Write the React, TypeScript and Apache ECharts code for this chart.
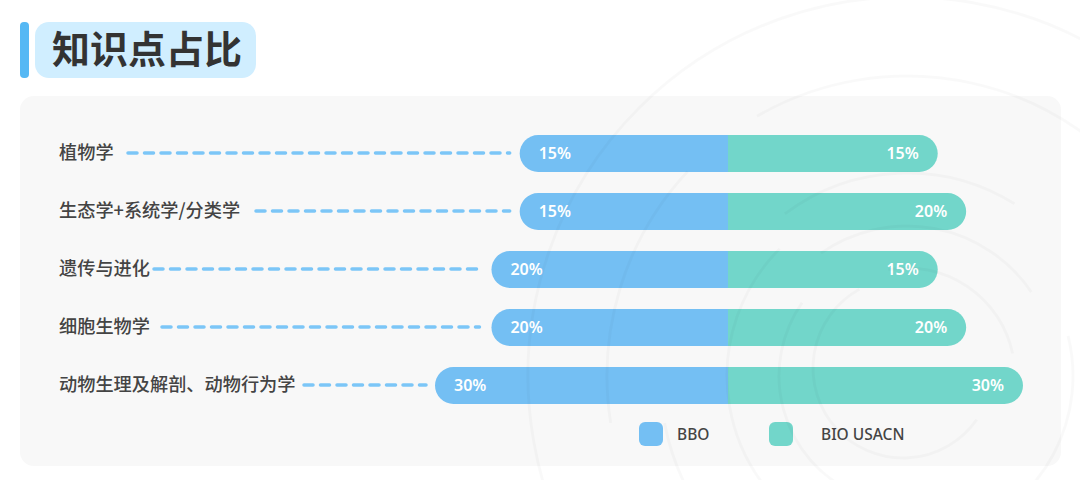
import { useEffect, useRef } from "react";
import * as echarts from "echarts";

const categories = ["植物学", "生态学+系统学/分类学", "遗传与进化", "细胞生物学", "动物生理及解剖、动物行为学"];
const bbo = [15, 15, 20, 20, 30];
const usacn = [15, 20, 15, 20, 30];
// where each dashed leader starts (just past the end of its label)
const leaderStart = [128, 256, 154, 162, 304];
const leaderGap = [10, 10, 12, 12, 9];

const BLUE = "#74bff3";
const GREEN = "#72d6ca";
const FONT = "'Noto Sans CJK SC', 'Noto Sans', sans-serif";
const LATIN = "'Noto Sans', sans-serif";

// the bars are not zero based in the picture: 0% still has some length
const AXIS_MIN = -21.9;
const AXIS_MAX = 30;

// faint concentric watermark behind the chart
const ringColor = "rgba(0,0,0,0.022)";
const d2r = Math.PI / 180;
const rings = [
  { cx: 907, cy: 376, r: 379, from: 115, to: 335 },
  { cx: 907, cy: 376, r: 300, from: 171, to: 223 },
  { cx: 907, cy: 376, r: 300, from: 240, to: 325 },
  { cx: 907, cy: 376, r: 247, from: 115, to: 169 },
  { cx: 907, cy: 376, r: 203, from: 233, to: 302 },
  { cx: 907, cy: 376, r: 180, from: 115, to: 225 },
  { cx: 907, cy: 376, r: 166, from: 346, to: 430 },
  { cx: 907, cy: 376, r: 150, from: 235, to: 326 },
  { cx: 907, cy: 376, r: 128, from: 115, to: 215 },
  { cx: 907, cy: 376, r: 108, from: 260, to: 348 },
  { cx: 903, cy: 368, r: 90, from: 35, to: 241 },
];

function makeOption() {
  return {
    animation: false,
    backgroundColor: "#ffffff",
    textStyle: { fontFamily: FONT },
    title: {
      text: "知识点占比",
      left: 47,
      top: 17,
      textStyle: { fontFamily: FONT, fontSize: 38, fontWeight: 700, color: "#333333", lineHeight: 48 },
    },
    graphic: [
      { type: "rect", z: -10, shape: { x: 20, y: 96, width: 1041, height: 370, r: 14 }, style: { fill: "#f8f8f8" } },
      { type: "rect", z: -10, shape: { x: 20, y: 22, width: 9, height: 56, r: 4 }, style: { fill: "#55b8f4" } },
      { type: "rect", z: -10, shape: { x: 35, y: 22, width: 221, height: 56, r: 14 }, style: { fill: "#d0eeff" } },
      ...rings.map((a) => ({
        type: "arc",
        z: 100,
        silent: true,
        shape: { cx: a.cx, cy: a.cy, r: a.r, startAngle: a.from * d2r, endAngle: a.to * d2r, clockwise: true },
        style: { stroke: ringColor, lineWidth: 3, fill: "none" },
      })),
    ],
    legend: [
      {
        data: ["BBO"],
        left: 639,
        top: 422,
        padding: 0,
        itemWidth: 24,
        itemHeight: 24,
        itemGap: 0,
        icon: "roundRect",
        textStyle: { fontFamily: LATIN, fontSize: 15.5, fontWeight: 500, color: "#444444", padding: [0, 0, 0, 9] },
      },
      {
        data: ["BIO USACN"],
        left: 769,
        top: 422,
        padding: 0,
        itemWidth: 24,
        itemHeight: 24,
        itemGap: 0,
        icon: "roundRect",
        textStyle: { fontFamily: LATIN, fontSize: 15.5, fontWeight: 500, color: "#444444", padding: [0, 0, 0, 23] },
      },
    ],
    grid: [
      { left: 435, width: 293, top: 124.5, height: 290 },
      { left: 728, width: 295, top: 124.5, height: 290 },
    ],
    xAxis: [
      { gridIndex: 0, type: "value", inverse: true, min: AXIS_MIN, max: AXIS_MAX, startValue: AXIS_MIN, show: false },
      { gridIndex: 1, type: "value", min: AXIS_MIN, max: AXIS_MAX, startValue: AXIS_MIN, show: false },
    ],
    yAxis: [
      {
        gridIndex: 0,
        type: "category",
        inverse: true,
        data: categories,
        axisLine: { show: false },
        axisTick: { show: false },
        axisLabel: {
          margin: 376,
          align: "left",
          verticalAlign: "bottom",
          lineHeight: 5,
          fontFamily: FONT,
          fontSize: 18.2,
          fontWeight: 500,
          color: "#444444",
        },
      },
      { gridIndex: 1, type: "category", inverse: true, data: categories, show: false },
    ],
    series: [
      {
        name: "BBO",
        type: "bar",
        xAxisIndex: 0,
        yAxisIndex: 0,
        data: bbo,
        barWidth: 37,
        itemStyle: { color: BLUE, borderRadius: [18.5, 0, 0, 18.5] },
        label: {
          show: true,
          position: "insideLeft",
          distance: 19,
          formatter: "{c}%",
          color: "#ffffff",
          fontFamily: LATIN,
          fontSize: 16,
          fontWeight: 600,
          verticalAlign: "bottom",
          lineHeight: 2,
        },
      },
      {
        name: "BIO USACN",
        type: "bar",
        xAxisIndex: 1,
        yAxisIndex: 1,
        data: usacn,
        barWidth: 37,
        itemStyle: { color: GREEN, borderRadius: [0, 18.5, 18.5, 0] },
        label: {
          show: true,
          position: "insideRight",
          distance: 19,
          formatter: "{c}%",
          color: "#ffffff",
          fontFamily: LATIN,
          fontSize: 16,
          fontWeight: 600,
          verticalAlign: "bottom",
          lineHeight: 2,
        },
      },
      {
        // dashed leaders between the labels and the bars
        name: "leaders",
        type: "custom",
        xAxisIndex: 0,
        yAxisIndex: 0,
        silent: true,
        data: bbo.map((v, i) => [v, i]),
        encode: { x: 0, y: 1 },
        renderItem: (params: any, api: any) => {
          const i = params.dataIndex;
          const p = api.coord([api.value(0), api.value(1)]);
          return {
            type: "line",
            shape: { x1: leaderStart[i], y1: p[1] - 0.5, x2: p[0] - leaderGap[i], y2: p[1] - 0.5 },
            style: { stroke: "#7cc6f7", lineWidth: 3.5, lineDash: [9, 7.5], lineCap: "round" },
          };
        },
      },
    ],
  };
}

export default function App() {
  const ref = useRef<HTMLDivElement>(null);
  useEffect(() => {
    if (!ref.current) return;
    const chart = echarts.init(ref.current, null, { renderer: "svg" });
    chart.setOption(makeOption() as any);
    return () => chart.dispose();
  }, []);
  return <div ref={ref} style={{ position: "fixed", left: 0, top: 0, width: 1080, height: 480 }} />;
}
